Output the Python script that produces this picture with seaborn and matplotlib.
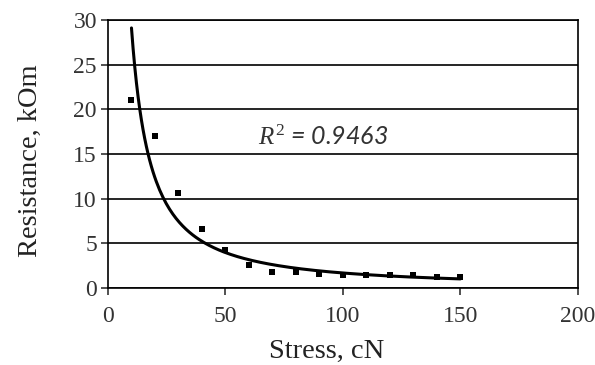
import numpy as np
import pandas as pd
import matplotlib
matplotlib.use("Agg")
import matplotlib.pyplot as plt
import seaborn as sns

# measured points
stress = [10, 20, 30, 40, 50, 60, 70, 80, 90, 100, 110, 120, 130, 140, 150]
resistance = [21.0, 17.0, 10.6, 6.6, 4.2, 2.6, 1.8, 1.8, 1.6, 1.5, 1.5, 1.4, 1.4, 1.2, 1.2]
r2_label = "$R^2$ = 0.9463"

sns.set_style("white")
plt.rcParams['font.family'] = ['Liberation Serif', 'DejaVu Serif']
plt.rcParams['mathtext.fontset'] = 'custom'
plt.rcParams['mathtext.it'] = 'Liberation Serif:italic'
plt.rcParams['mathtext.rm'] = 'Liberation Serif'

df = pd.DataFrame({"stress": stress, "resistance": resistance})

# power trendline, same as excel (fit in log-log space)
b, log_a = np.polyfit(np.log(df.stress), np.log(df.resistance), 1)
xs = np.linspace(min(stress), max(stress), 200)
trend = pd.DataFrame({"stress": xs, "resistance": np.exp(log_a) * xs ** b})

fig = plt.figure(figsize=(5.95, 3.65), dpi=100)
ax = fig.add_axes([0.1815, 0.211, 0.7895, 0.734])

sns.lineplot(data=trend, x="stress", y="resistance", color="black", linewidth=2.2, ax=ax)
sns.scatterplot(data=df, x="stress", y="resistance", color="black", marker="s", s=24,
                edgecolor="black", linewidth=0, ax=ax, zorder=3)

ax.set_xlim(0, 200)
ax.set_ylim(0, 30)
ax.set_xticks(range(0, 201, 50))
ax.set_yticks(range(0, 31, 5))
ax.yaxis.grid(True, color="black", linewidth=1.2)
ax.set_axisbelow(True)
for s in ax.spines.values():
    s.set_color("black")
    s.set_linewidth(1.2)
ax.tick_params(axis="both", direction="out", length=5, width=1.2, colors="#333333",
               labelsize=17, bottom=True, left=True)
ax.tick_params(axis="x", pad=8)
ax.tick_params(axis="y", pad=3)

ax.set_xlabel("Stress, cN", fontsize=20.5, color="#222222")
ax.set_ylabel("Resistance, kOm", fontsize=20.5, color="#222222")
ax.xaxis.set_label_coords(0.466, -0.19)
ax.yaxis.set_label_coords(-0.138, 0.474)

ax.text(64, 16.9, r2_label, fontsize=18, style="italic", family="Lato",
        color="#333333", va="center")

fig.savefig("out.png", dpi=100)
